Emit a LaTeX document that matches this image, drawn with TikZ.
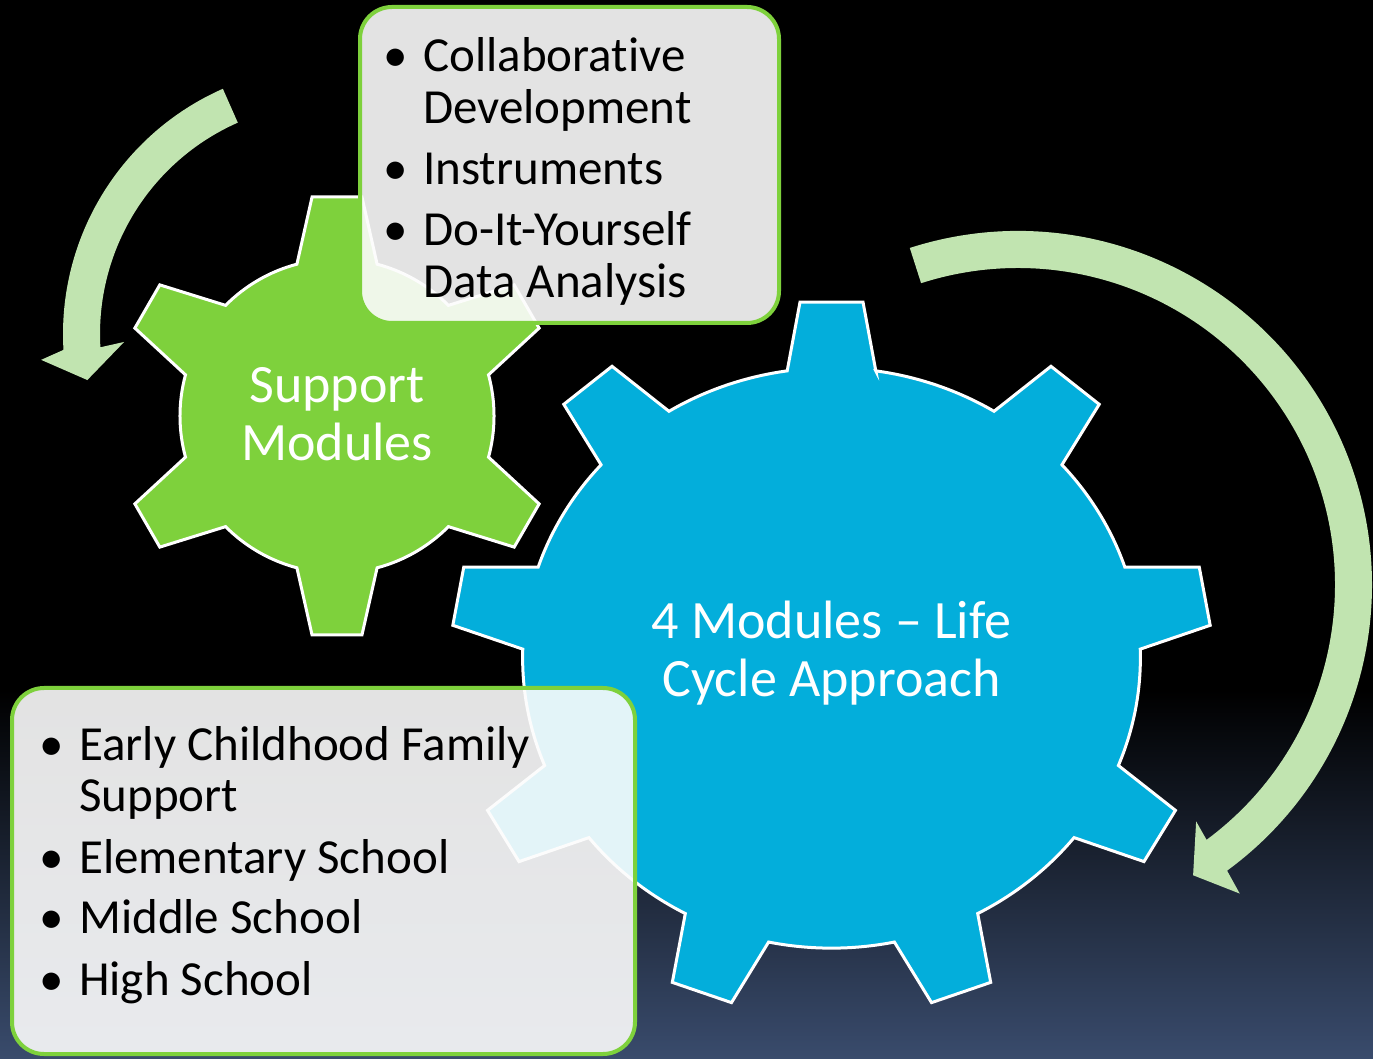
\documentclass[tikz,border=0pt]{standalone}
\usepackage{fontspec}
\setmainfont{Carlito}[Ligatures={NoCommon}]
\definecolor{gearGreen}{HTML}{7ED13C}
\definecolor{gearBlue}{HTML}{03AEDB}
\definecolor{arrowGreen}{HTML}{C1E4B0}
\definecolor{bgBottom}{HTML}{394B6C}
\definecolor{boxFill}{HTML}{FCFCFC}
\tikzset{
  gearline/.style={draw=white, line width=3pt, line join=miter},
  cyclearrow/.style={fill=arrowGreen, draw=none},
  infobox/.style={draw=gearGreen, line width=4pt, fill=boxFill, fill opacity=0.9, draw opacity=1, rounded corners=32pt, inner sep=0pt},
  geartext/.style={text=white, font=\fontsize{54}{58}\selectfont, align=center, inner sep=0pt},
  itemtext/.style={text=black, font=\fontsize{49}{52}\selectfont, align=left, inner sep=0pt, anchor=base west},
}
\begin{document}
\begin{tikzpicture}[x=1pt,y=1pt]
\useasboundingbox (0,0) rectangle (1373,1058);
% background
\fill[black] (0,0) rectangle (1373,1058);
\shade[top color=black, bottom color=bgBottom] (0,0) rectangle (1373,368);

% left cycle arrow
\begin{scope}[shift={(331,724)}]
  \fill[cyclearrow] (113.8:268) arc[start angle=113.8, end angle=183.4, radius=268]
    -- (185.1:291) -- (190.7:248) -- (182.2:207) -- (183.3:231)
    arc[start angle=183.3, end angle=113.8, radius=231] -- cycle;
\end{scope}

% right cycle arrow
\begin{scope}[shift={(1018,473)}]
  \fill[cyclearrow] (107.8:354) arc[start angle=107.8, end angle=-53.8, radius=354]
    -- (-54.3:380) -- (-58.9:339) -- (-53:296) -- (-53.5:317)
    arc[start angle=-53.5, end angle=107.8, radius=317] -- cycle;
\end{scope}

% green gear (6 teeth)
\begin{scope}[shift={(337,642)}, scale=219]
  \path[gearline, fill=gearGreen] (90-14.8:0.717)
    \foreach \k in {0,...,5}{
      -- ({90+60*\k-6.5}:1.0065) -- ({90+60*\k+6.5}:1.0065) -- ({90+60*\k+14.8}:0.717)
      arc[start angle={90+60*\k+14.8}, end angle={90+60*\k+60-14.8}, radius=0.717]
    } -- cycle;
\end{scope}

% blue gear (9 teeth)
\begin{scope}[shift={(831.5,400)}, xscale=379, yscale=356]
  \path[gearline, fill=gearBlue] (90-8.25:0.815)
    \foreach \k in {0,...,8}{
      -- ({90+40*\k-4.75}:1.0034) -- ({90+40*\k+4.75}:1.0034) -- ({90+40*\k+8.25}:0.815)
      arc[start angle={90+40*\k+8.25}, end angle={90+40*\k+40-8.25}, radius=0.815]
    } -- cycle;
\end{scope}

\node[geartext] (support) at (337,644) {Support\\Modules};
\node[geartext] (life) at (831.5,405) {4 Modules – Life\\Cycle Approach};

% text boxes
\node[infobox, minimum width=419pt, minimum height=316pt] (topbox) at (569.5,893) {};
\node[infobox, minimum width=623pt, minimum height=366pt] (lowbox) at (323.5,187) {};

\node[itemtext] (i1) at (383,934) {\makebox[40pt][l]{•}Collaborative\\\hspace*{40pt}Development};
\node[itemtext] (i2) at (383,873) {\makebox[40pt][l]{•}Instruments};
\node[itemtext] (i3) at (383,760) {\makebox[40pt][l]{•}Do-It-Yourself\\\hspace*{40pt}Data Analysis};

\node[itemtext] (j1) at (39,246) {\makebox[40pt][l]{•}Early Childhood Family\\\hspace*{40pt}Support};
\node[itemtext] (j2) at (39,185) {\makebox[40pt][l]{•}Elementary School};
\node[itemtext] (j3) at (39,125) {\makebox[40pt][l]{•}Middle School};
\node[itemtext] (j4) at (39,63) {\makebox[40pt][l]{•}High School};
\end{tikzpicture}
\end{document}
